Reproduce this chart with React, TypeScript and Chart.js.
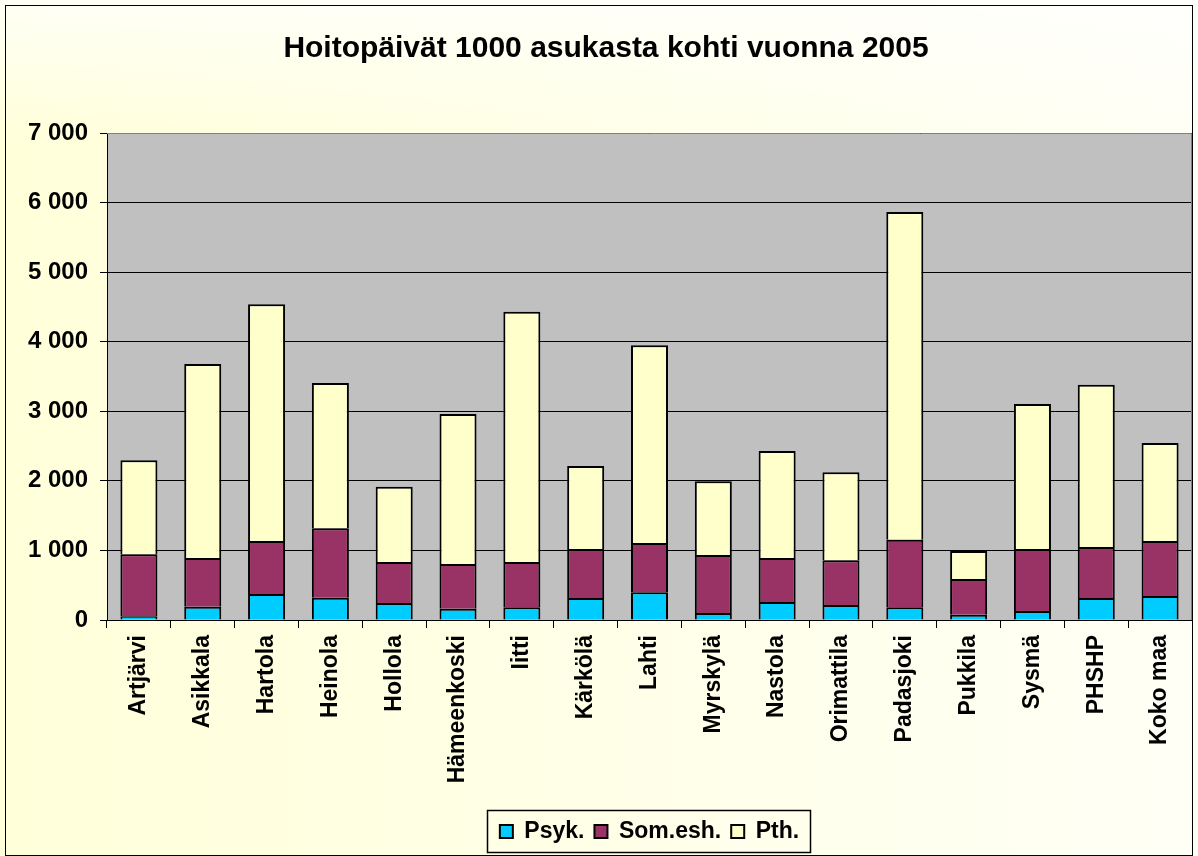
import React, { useEffect, useRef } from "react";
import { Chart, registerables } from "chart.js";

Chart.register(...registerables);

const categories = [
  "Artjärvi", "Asikkala", "Hartola", "Heinola", "Hollola", "Hämeenkoski", "Iitti",
  "Kärkölä", "Lahti", "Myrskylä", "Nastola", "Orimattila", "Padasjoki", "Pukkila",
  "Sysmä", "PHSHP", "Koko maa",
];
const psyk = [55, 190, 375, 320, 245, 160, 185, 315, 400, 100, 260, 215, 185, 75, 130, 315, 345];
const somEsh = [890, 700, 760, 1000, 590, 645, 650, 705, 705, 835, 630, 645, 970, 515, 890, 735, 790];
const pth = [1350, 2790, 3405, 2085, 1080, 2155, 3595, 1195, 2845, 1060, 1540, 1265, 4710, 400, 2085, 2330, 1410];
const yTicks = [0, 1000, 2000, 3000, 4000, 5000, 6000, 7000];

const FONT = "'Liberation Sans', Arial, sans-serif";

const fmt = (v: number) => String(v).replace(/\B(?=(\d{3})+(?!\d))/g, " ");

const bgPlugin = {
  id: "bgPlugin",
  beforeDraw(chart: any) {
    const { ctx, width, height, chartArea } = chart;
    ctx.save();
    const g = ctx.createLinearGradient(0, 0, width, 0);
    g.addColorStop(0, "#FFFFDA");
    g.addColorStop(1, "#FFFFF6");
    ctx.fillStyle = g;
    ctx.fillRect(0, 0, width, height);
    const g2 = ctx.createLinearGradient(0, 0, 0, 140);
    g2.addColorStop(0, "rgba(255,255,255,0.75)");
    g2.addColorStop(1, "rgba(255,255,255,0)");
    ctx.fillStyle = g2;
    ctx.fillRect(0, 0, width, 140);
    ctx.fillStyle = "#C0C0C0";
    ctx.fillRect(chartArea.left, chartArea.top, chartArea.right - chartArea.left, chartArea.bottom - chartArea.top);
    ctx.restore();
  },
  afterDraw(chart: any) {
    const { ctx, width, height, chartArea } = chart;
    ctx.save();
    ctx.strokeStyle = "#808080";
    ctx.lineWidth = 1;
    ctx.beginPath();
    ctx.moveTo(chartArea.left, chartArea.top + 0.5);
    ctx.lineTo(chartArea.right - 0.5, chartArea.top + 0.5);
    ctx.lineTo(chartArea.right - 0.5, chartArea.bottom);
    ctx.stroke();
    ctx.strokeStyle = "#000";
    ctx.strokeRect(5.5, 5.5, width - 11, height - 6);
    const lg = chart.legend;
    if (lg && lg.legendHitBoxes && lg.legendHitBoxes.length) {
      const hb = lg.legendHitBoxes;
      let l = Infinity, r = -Infinity;
      hb.forEach((h: any) => {
        l = Math.min(l, h.left);
        r = Math.max(r, h.left + h.width);
      });
      ctx.strokeStyle = "#000";
      ctx.lineWidth = 1.5;
      ctx.strokeRect(Math.round(l - 13) + 0.5, Math.round(lg.top) + 0.5, Math.round(r - l + 24), Math.round(lg.height - 1));
    }
    ctx.restore();
  },
};

export default function App() {
  const ref = useRef<HTMLCanvasElement>(null);
  useEffect(() => {
    document.body.style.margin = "0";
    if (!ref.current) return;
    const ds = (label: string, data: number[], color: string) => ({
      label,
      data,
      backgroundColor: color,
      borderColor: "#000",
      borderWidth: 2,
      borderSkipped: "start" as const,
      categoryPercentage: 1,
      barPercentage: 0.58,
    });
    const chart = new Chart(ref.current, {
      type: "bar",
      data: {
        labels: categories,
        datasets: [
          ds("Psyk.", psyk, "#00CCFF"),
          ds("Som.esh.", somEsh, "#993366"),
          ds("Pth.", pth, "#FFFFCC"),
        ],
      },
      options: {
        animation: false,
        responsive: false,
        layout: { padding: { left: 20, right: 6, top: 10, bottom: 3 } },
        plugins: {
          title: {
            display: true,
            text: "Hoitopäivät 1000 asukasta kohti vuonna 2005",
            color: "#000",
            font: { family: FONT, size: 30, weight: "bold" },
            padding: { top: 21, bottom: 66 },
          },
          legend: {
            position: "bottom",
            fullSize: false,
            labels: {
              color: "#000",
              boxWidth: 13,
              boxHeight: 13,
              padding: 10,
              font: { family: FONT, size: 23, weight: "bold" },
            },
          },
          tooltip: { enabled: false },
        },
        scales: {
          x: {
            stacked: true,
            grid: {
              offset: true,
              drawOnChartArea: false,
              color: "#000",
              tickLength: 8,
            },
            border: { display: true, color: "#000", width: 1 },
            ticks: {
              autoSkip: false,
              minRotation: 90,
              maxRotation: 90,
              padding: 7,
              color: "#000",
              font: { family: FONT, size: 23, weight: "bold" },
            },
            afterFit: (s: any) => {
              s.height = 190;
            },
          },
          y: {
            stacked: true,
            min: 0,
            max: 7000,
            afterBuildTicks: (s: any) => {
              s.ticks = yTicks.map((v) => ({ value: v }));
            },
            grid: { color: "#000", lineWidth: 1, tickLength: 7 },
            border: { display: true, color: "#000", width: 1 },
            ticks: {
              padding: 12,
              color: "#000",
              font: { family: FONT, size: 24, weight: "bold" },
              callback: (v: any) => fmt(Number(v)),
            },
            afterFit: (s: any) => {
              s.width = 87;
            },
          },
        },
      },
      plugins: [bgPlugin],
    });
    return () => chart.destroy();
  }, []);
  return (
    <div style={{ width: 1198, height: 856 }}>
      <canvas ref={ref} width={1198} height={856} style={{ display: "block" }} />
    </div>
  );
}
